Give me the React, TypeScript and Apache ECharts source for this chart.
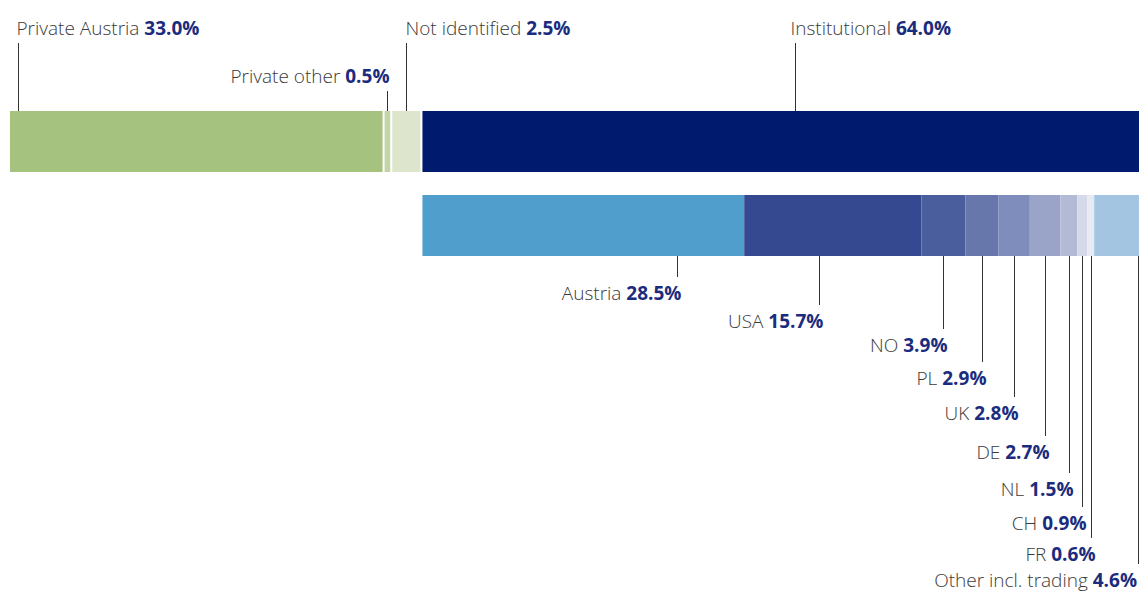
import React, { useEffect, useRef } from "react";
import * as echarts from "echarts";

// ---- data ----
const rows = ["Shareholder structure", "Institutional by region"];
const topNames = ["Private Austria", "Private other", "Not identified", "Institutional"];
const topValues = [33.0, 0.5, 2.5, 64.0];
const regionNames = ["Austria", "USA", "NO", "PL", "UK", "DE", "NL", "CH", "FR", "Other incl. trading"];
const regionValues = [28.5, 15.7, 3.9, 2.9, 2.8, 2.7, 1.5, 0.9, 0.6, 4.6];

// ---- styles / layout ----
const topColors = ["#a6c27f", "#c3d5a8", "#dde6cd", "#001a6e"];
const regionColors = ["#4f9ecb", "#34498f", "#4a5d9c", "#6777ab", "#7e8dbb", "#9aa4c9", "#b3bad6", "#d5d9e9", "#e8eaf3", "#a3c5e1"];
const topLeaderFrac = [0.021, 0.5, 0.5, 0.52];
const topLabelY = [28, 76, 28, 28];
const topLabelAlign = ["left", "right", "left", "left"];
const topLabelDx = [-2, 2, -1, -5];
const regionLeaderFrac = [0.79, 0.42, 0.5, 0.5, 0.5, 0.5, 0.5, 0.5, 0.5, 0.97];
const regionLabelY = [293, 321, 345, 378, 413, 452, 489, 523, 554, 580];

const GAP = 2;
const BAR_H = 61;
const FONT = "'Open Sans', 'Noto Sans', sans-serif";
const rich = {
  n: { fontFamily: FONT, fontSize: 19, fontWeight: 300, fill: "#3a3a3a" },
  b: { fontFamily: FONT, fontSize: 19, fontWeight: 700, fill: "#1b2c7e" },
};

function cumulative(values: number[]) {
  let acc = 0;
  return values.map((v, i) => {
    const s = acc;
    acc += v;
    return [s, acc, i];
  });
}

export default function App() {
  const ref = useRef<HTMLDivElement>(null);
  useEffect(() => {
    if (!ref.current) return;
    const chart = echarts.init(ref.current, null, { renderer: "svg" });
    const topData = cumulative(topValues);
    const regionData = cumulative(regionValues);
    const instOffsetValue = topValues.slice(0, 3).reduce((a, b) => a + b, 0);

    const clip = (r: any, cs: any) =>
      echarts.graphic.clipRectByRect(r, { x: cs.x, y: cs.y, width: cs.width, height: cs.height });

    const label = (name: string, v: number) => `{n|${name} }{b|${v.toFixed(1)}%}`;

    const option: any = {
      animation: false,
      grid: { left: 10, right: 0, top: 99.5, height: 168 },
      xAxis: { type: "value", min: 0, max: 100, show: false },
      yAxis: { type: "category", data: rows, inverse: true, show: false },
      series: [
        {
          type: "custom",
          data: topData,
          encode: { x: [0, 1] },
          renderItem: (params: any, api: any) => {
            const i = params.dataIndex;
            const s = api.value(0);
            const e = api.value(1);
            const cy = api.coord([0, 0])[1];
            const x0 = api.coord([s, 0])[0] + i * GAP;
            const x1 = api.coord([e, 0])[0] + i * GAP;
            const r = clip({ x: x0, y: cy - BAR_H / 2, width: x1 - x0, height: BAR_H }, params.coordSys);
            if (!r) return null;
            const lx = Math.round(r.x + topLeaderFrac[i] * r.width) + 0.5;
            const ly = topLabelY[i];
            return {
              type: "group",
              children: [
                { type: "rect", shape: r, style: { fill: topColors[i] } },
                {
                  type: "line",
                  shape: { x1: lx, y1: ly + 15, x2: lx, y2: r.y },
                  style: { stroke: "#333", lineWidth: 1 },
                },
                {
                  type: "text",
                  style: {
                    text: label(topNames[i], topValues[i]),
                    rich,
                    x: lx + topLabelDx[i],
                    y: ly,
                    align: topLabelAlign[i],
                    verticalAlign: "middle",
                  },
                },
              ],
            };
          },
        },
        {
          type: "custom",
          data: regionData,
          encode: { x: [0, 1] },
          renderItem: (params: any, api: any) => {
            const i = params.dataIndex;
            const s = api.value(0);
            const e = api.value(1);
            const cy = api.coord([0, 1])[1];
            const origin = api.coord([instOffsetValue, 1])[0] + 3 * GAP;
            const zero = api.coord([0, 1])[0];
            const x0 = origin + api.coord([s, 1])[0] - zero;
            const x1 = origin + api.coord([e, 1])[0] - zero;
            const r = clip({ x: x0, y: cy - BAR_H / 2, width: x1 - x0, height: BAR_H }, params.coordSys);
            if (!r) return null;
            const lx = Math.round(r.x + regionLeaderFrac[i] * r.width) + 0.5;
            const ly = regionLabelY[i];
            return {
              type: "group",
              children: [
                { type: "rect", shape: r, style: { fill: regionColors[i] } },
                {
                  type: "line",
                  shape: { x1: lx, y1: r.y + r.height, x2: lx, y2: ly - 16 },
                  style: { stroke: "#333", lineWidth: 1 },
                },
                {
                  type: "text",
                  style: {
                    text: label(regionNames[i], regionValues[i]),
                    rich,
                    x: Math.min(lx + 4, 1137),
                    y: ly,
                    align: "right",
                    verticalAlign: "middle",
                  },
                },
              ],
            };
          },
        },
      ],
    };
    chart.setOption(option);
    return () => chart.dispose();
  }, []);
  return (
    <div
      ref={ref}
      style={{ position: "absolute", left: 0, top: 0, width: 1139, height: 593, background: "#fff" }}
    />
  );
}
